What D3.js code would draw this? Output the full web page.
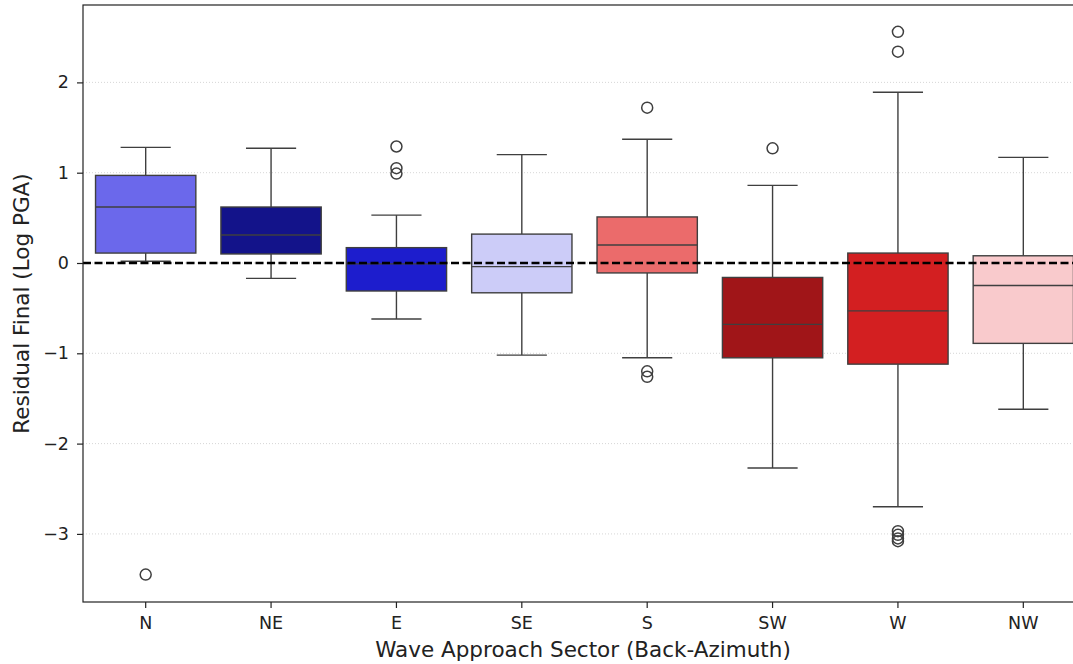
<!DOCTYPE html>
<html lang="en">
<head>
<meta charset="UTF-8">
<title>Residual by Wave Approach Sector</title>
<script src="https://d3js.org/d3.v7.min.js"></script>
<style>
  body { margin: 0; padding: 0; background: #ffffff; }
  svg { display: block; font-family: "DejaVu Sans", sans-serif; }
  .tick text { font-size: 17.5px; fill: #222; font-family: "DejaVu Sans", sans-serif; }
</style>
</head>
<body>
<svg id="chart"></svg>
<script>
// Sectors and box statistics
const sectors = ["N", "NE", "E", "SE", "S", "SW", "W", "NW"];
const whiskerLow  = [0.02, -0.17, -0.62, -1.02, -1.05, -2.27, -2.70, -1.62];
const q1          = [0.11, 0.10, -0.31, -0.33, -0.11, -1.05, -1.12, -0.89];
const median      = [0.62, 0.31, -0.01, -0.04, 0.20, -0.68, -0.53, -0.25];
const q3          = [0.97, 0.62, 0.17, 0.32, 0.51, -0.16, 0.11, 0.08];
const whiskerHigh = [1.28, 1.27, 0.53, 1.20, 1.37, 0.86, 1.89, 1.17];
const outliers = [
  [-3.45],
  [],
  [1.29, 1.05, 0.99],
  [],
  [1.72, -1.20, -1.26],
  [1.27],
  [2.56, 2.34, -2.97, -3.01, -3.05, -3.08],
  []
];
const boxColors = ["#6b68eb", "#13138a", "#1d1dcd", "#ccccf8", "#eb6b6b", "#a01518", "#d31f21", "#f9cacc"];
const yTicks = [-3, -2, -1, 0, 1, 2];

const width = 1073, height = 664;
const margin = { top: 5, right: -13, bottom: 62, left: 83 };

const svg = d3.select("#chart").attr("width", width).attr("height", height);

const x = d3.scaleBand()
  .domain(sectors)
  .range([margin.left, width - margin.right]);

const y = d3.scaleLinear()
  .domain([-3.754, 2.857])
  .range([height - margin.bottom, margin.top]);

const edge = "#3f3f3f";
const boxW = x.bandwidth() * 0.8;
const capW = boxW / 2;

// grid
svg.append("g")
  .selectAll("line")
  .data(yTicks)
  .join("line")
  .attr("x1", margin.left)
  .attr("x2", width)
  .attr("y1", d => y(d))
  .attr("y2", d => y(d))
  .attr("stroke", "#cccccc")
  .attr("stroke-width", 0.8)
  .attr("stroke-dasharray", "1,2");

const rows = sectors.map((s, i) => ({
  s, lo: whiskerLow[i], q1: q1[i], med: median[i], q3: q3[i], hi: whiskerHigh[i],
  out: outliers[i], color: boxColors[i]
}));

const g = svg.append("g")
  .selectAll("g")
  .data(rows)
  .join("g")
  .attr("transform", d => `translate(${x(d.s) + x.bandwidth() / 2},0)`);

// whiskers
g.append("line")
  .attr("x1", 0).attr("x2", 0)
  .attr("y1", d => y(d.q3)).attr("y2", d => y(d.hi))
  .attr("stroke", edge).attr("stroke-width", 1.4);
g.append("line")
  .attr("x1", 0).attr("x2", 0)
  .attr("y1", d => y(d.q1)).attr("y2", d => y(d.lo))
  .attr("stroke", edge).attr("stroke-width", 1.4);
g.append("line")
  .attr("x1", -capW / 2).attr("x2", capW / 2)
  .attr("y1", d => y(d.hi)).attr("y2", d => y(d.hi))
  .attr("stroke", edge).attr("stroke-width", 1.4);
g.append("line")
  .attr("x1", -capW / 2).attr("x2", capW / 2)
  .attr("y1", d => y(d.lo)).attr("y2", d => y(d.lo))
  .attr("stroke", edge).attr("stroke-width", 1.4);

// boxes
g.append("rect")
  .attr("x", -boxW / 2)
  .attr("width", boxW)
  .attr("y", d => y(d.q3))
  .attr("height", d => y(d.q1) - y(d.q3))
  .attr("fill", d => d.color)
  .attr("stroke", edge)
  .attr("stroke-width", 1.4);

// medians
g.append("line")
  .attr("x1", -boxW / 2).attr("x2", boxW / 2)
  .attr("y1", d => y(d.med)).attr("y2", d => y(d.med))
  .attr("stroke", edge).attr("stroke-width", 1.4);

// outliers
g.selectAll("circle")
  .data(d => d.out)
  .join("circle")
  .attr("cx", 0)
  .attr("cy", d => y(d))
  .attr("r", 5.5)
  .attr("fill", "none")
  .attr("stroke", edge)
  .attr("stroke-width", 1.5);

// zero reference line
svg.append("line")
  .attr("x1", margin.left).attr("x2", width)
  .attr("y1", y(0)).attr("y2", y(0))
  .attr("stroke", "#000000")
  .attr("stroke-width", 2.4)
  .attr("stroke-dasharray", "8,3.5");

// axes
const yAxis = svg.append("g")
  .attr("transform", `translate(${margin.left},0)`)
  .call(d3.axisLeft(y).tickValues(yTicks).tickSize(6).tickPadding(8)
    .tickFormat(d => d3.format("d")(d).replace("-", "\u2212")));
const xAxis = svg.append("g")
  .attr("transform", `translate(0,${height - margin.bottom})`)
  .call(d3.axisBottom(x).tickSize(6).tickPadding(9));

[yAxis, xAxis].forEach(a => {
  a.select(".domain").remove();
  a.selectAll(".tick line").attr("stroke", "#222").attr("stroke-width", 1.2);
});

// frame
svg.append("rect")
  .attr("x", margin.left)
  .attr("y", margin.top)
  .attr("width", width - margin.right - margin.left)
  .attr("height", height - margin.bottom - margin.top)
  .attr("fill", "none")
  .attr("stroke", "#222")
  .attr("stroke-width", 1.2);

// labels
svg.append("text")
  .attr("x", 583)
  .attr("y", 657)
  .attr("text-anchor", "middle")
  .attr("fill", "#222")
  .style("font-size", "21.5px")
  .text("Wave Approach Sector (Back-Azimuth)");

svg.append("text")
  .attr("transform", `translate(29,${(margin.top + height - margin.bottom) / 2}) rotate(-90)`)
  .attr("text-anchor", "middle")
  .attr("fill", "#222")
  .style("font-size", "21.5px")
  .text("Residual Final (Log PGA)");
</script>
</body>
</html>
